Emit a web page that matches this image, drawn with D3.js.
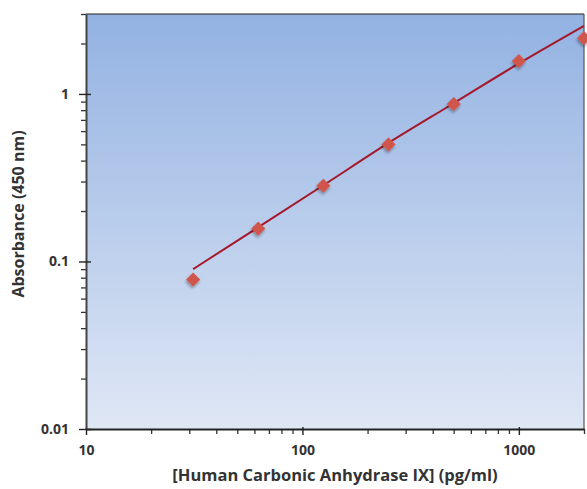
<!DOCTYPE html>
<html>
<head>
<meta charset="utf-8">
<script src="https://cdn.jsdelivr.net/npm/d3@7"></script>
<style>
  body { margin: 0; background: #fff; }
  text { font-family: "Open Sans", "DejaVu Sans", sans-serif; font-weight: bold; fill: #333; }
</style>
</head>
<body>
<div id="chart"></div>
<script>
// standard curve points
var conc = [31.25, 62.5, 125, 250, 500, 1000, 2000];
var absorb = [0.078, 0.157, 0.283, 0.50, 0.87, 1.57, 2.15];
// fitted curve
var fitConc = [31.25, 62.5, 125, 250, 500, 1000, 2000];
var fitAbs = [0.09, 0.16, 0.285, 0.51, 0.88, 1.52, 2.55];
var xTicks = [10, 100, 1000];
var yTicks = [0.01, 0.1, 1];

var w = 587, h = 489;
var margin = {top: 14, right: 3, bottom: 60, left: 86},
    width = w - margin.left - margin.right,
    height = h - margin.top - margin.bottom;

var svg = d3.select("#chart").append("svg")
    .attr("width", w)
    .attr("height", h);

var defs = svg.append("defs");
var grad = defs.append("linearGradient")
    .attr("id", "bg")
    .attr("x1", 0).attr("y1", 0).attr("x2", 0).attr("y2", 1);
grad.append("stop").attr("offset", "0%").attr("stop-color", "#93b2e2");
grad.append("stop").attr("offset", "100%").attr("stop-color", "#dfe7f5");

var shadow = defs.append("filter").attr("id", "shadow")
    .attr("x", "-50%").attr("y", "-50%").attr("width", "200%").attr("height", "200%");
shadow.append("feGaussianBlur").attr("in", "SourceAlpha").attr("stdDeviation", 1.5).attr("result", "b");
shadow.append("feOffset").attr("in", "b").attr("dx", 1).attr("dy", 2).attr("result", "o");
shadow.append("feComponentTransfer").attr("in", "o").attr("result", "s")
    .append("feFuncA").attr("type", "linear").attr("slope", 0.35);
var merge = shadow.append("feMerge");
merge.append("feMergeNode").attr("in", "s");
merge.append("feMergeNode").attr("in", "SourceGraphic");

var g = svg.append("g").attr("transform", "translate(" + margin.left + "," + margin.top + ")");

var x = d3.scaleLog().domain([10, 2000]).range([0, width]);
var y = d3.scaleLog().domain([0.01, 3]).range([height, 0]);

g.append("rect")
    .attr("width", width)
    .attr("height", height)
    .attr("fill", "url(#bg)");

// frame
g.append("line").attr("x1", 0).attr("x2", width).attr("y1", 0).attr("y2", 0)
    .attr("stroke", "#222").attr("stroke-width", 1.2);
g.append("line").attr("x1", width).attr("x2", width).attr("y1", 0).attr("y2", height)
    .attr("stroke", "#555").attr("stroke-width", 1.2);

// minor ticks
var xMinor = [], yMinor = [];
[10, 100, 1000].forEach(function(d){
  for (var k = 2; k <= 9; k++) if (d * k <= 2000) xMinor.push(d * k);
});
[0.01, 0.1, 1].forEach(function(d){
  for (var k = 2; k <= 9; k++) if (d * k <= 3) yMinor.push(d * k);
});

g.append("g")
    .attr("transform", "translate(0," + height + ")")
    .call(d3.axisBottom(x).tickValues(xMinor).tickSize(5).tickFormat(""))
    .call(function(a){ a.select(".domain").remove(); a.selectAll("line").attr("stroke", "#333").attr("stroke-width", 1.3); });

g.append("g")
    .call(d3.axisLeft(y).tickValues(yMinor).tickSize(5).tickFormat(""))
    .call(function(a){ a.select(".domain").remove(); a.selectAll("line").attr("stroke", "#333").attr("stroke-width", 1.3); });

// major axes
var xAxis = g.append("g")
    .attr("transform", "translate(0," + height + ")")
    .call(d3.axisBottom(x).tickValues(xTicks).tickSize(6).tickPadding(10).tickFormat(d3.format("d")).tickSizeOuter(0));
xAxis.select(".domain").attr("stroke", "#222").attr("stroke-width", 2);
xAxis.selectAll(".tick line").attr("y1", -2).attr("stroke", "#222").attr("stroke-width", 1.4);
xAxis.selectAll("text").style("font-size", "14px").attr("fill", "#333");

var yAxis = g.append("g")
    .call(d3.axisLeft(y).tickValues(yTicks).tickSize(7).tickPadding(10).tickFormat(function(d){ return String(d); }).tickSizeOuter(0));
yAxis.select(".domain").attr("stroke", "#444").attr("stroke-width", 2);
yAxis.selectAll(".tick line").attr("x1", 5).attr("stroke", "#222").attr("stroke-width", 1.4);
yAxis.selectAll("text").style("font-size", "14px").attr("fill", "#333");

// fit line
var line = d3.line()
    .curve(d3.curveMonotoneX)
    .x(function(d){ return x(d[0]); })
    .y(function(d){ return y(d[1]); });

g.append("path")
    .datum(d3.zip(fitConc, fitAbs))
    .attr("d", line)
    .attr("fill", "none")
    .attr("stroke", "#a5182b")
    .attr("stroke-width", 2);

// markers
g.selectAll(".pt")
    .data(d3.zip(conc, absorb))
    .enter().append("path")
    .attr("class", "pt")
    .attr("d", d3.symbol().type(d3.symbolSquare).size(100))
    .attr("transform", function(d){ return "translate(" + x(d[0]) + "," + y(d[1]) + ") rotate(45)"; })
    .attr("fill", "#d0564c")
    .attr("filter", "url(#shadow)");

// titles
svg.append("text")
    .attr("x", margin.left + width / 2)
    .attr("y", 481)
    .attr("text-anchor", "middle")
    .style("font-size", "16.5px")
    .text("[Human Carbonic Anhydrase IX] (pg/ml)");

svg.append("text")
    .attr("transform", "translate(24,214) rotate(-90)")
    .attr("text-anchor", "middle")
    .style("font-size", "16px")
    .text("Absorbance (450 nm)");
</script>
</body>
</html>
